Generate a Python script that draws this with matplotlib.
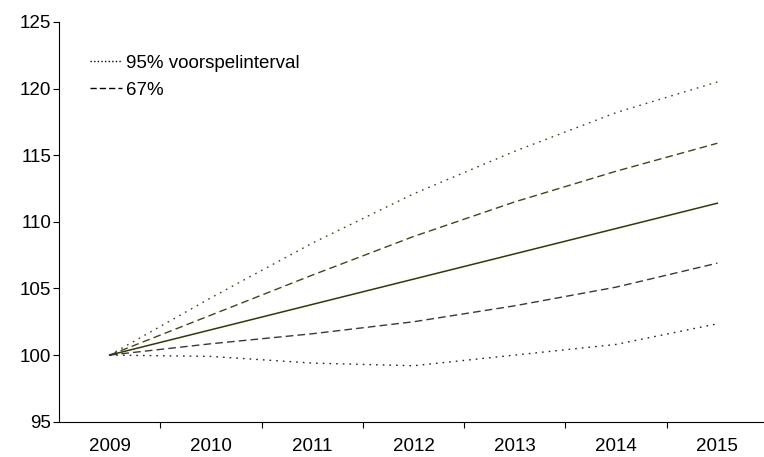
import matplotlib.pyplot as plt

plt.rcParams['font.family'] = ['Liberation Sans', 'DejaVu Sans']

jaren = ['2009', '2010', '2011', '2012', '2013', '2014', '2015']
midden = [100, 101.9, 103.8, 105.7, 107.6, 109.5, 111.4]
boven_95 = [100, 104.3, 108.4, 112.1, 115.3, 118.2, 120.5]
boven_67 = [100, 103.0, 106.0, 108.9, 111.5, 113.8, 115.9]
onder_67 = [100, 100.85, 101.6, 102.5, 103.7, 105.1, 106.9]
onder_95 = [100, 99.9, 99.4, 99.2, 100.0, 100.8, 102.35]

fs = 13.5
dot = (0, (1.2, 3.6))
dash = (0, (5.5, 3))

fig = plt.figure(figsize=(7.64, 4.57), dpi=100)
# x-as loopt iets voorbij de rechterrand door
ax = fig.add_axes([59 / 764, 1 - 421.7 / 457, 709 / 764, 399.7 / 457])

x = range(len(jaren))
olijf = '#44441a'
ax.plot(x, boven_95, color=olijf, lw=1.0, linestyle=dot)
ax.plot(x, boven_67, color=olijf, lw=1.0, linestyle=dash)
ax.plot(x, midden, color='#36360c', lw=1.1)
ax.plot(x, onder_67, color='#383838', lw=1.0, linestyle=dash)
ax.plot(x, onder_95, color='#262626', lw=1.0, linestyle=dot)

ax.set_xlim(-0.5, len(jaren) - 0.5)
ax.set_ylim(95, 125)
ax.set_yticks(range(95, 126, 5))

# streepjes tussen de jaren, labels op de jaren
ax.set_xticks([i + 0.5 for i in range(len(jaren) - 1)])
ax.set_xticklabels([])
ax.set_xticks(list(x), minor=True)
ax.set_xticklabels(jaren, minor=True)
ax.tick_params(axis='x', which='major', direction='out', length=4.5, width=0.8)
ax.tick_params(axis='x', which='minor', length=0, pad=12, labelsize=fs)
ax.tick_params(axis='y', direction='out', length=4.5, width=0.8, pad=1, labelsize=fs)

for s in ['top', 'right']:
    ax.spines[s].set_visible(False)
for s in ['left', 'bottom']:
    ax.spines[s].set_linewidth(0.8)

h1, = ax.plot([], [], color='black', lw=1.0, linestyle=(0, (1, 1.6)))
h2, = ax.plot([], [], color='black', lw=1.0, linestyle=(0, (4.5, 2.2)))
ax.legend([h1, h2], ['95% voorspelinterval', '67%'], loc='upper left',
          bbox_to_anchor=(0.033, 0.937), frameon=False, fontsize=fs,
          handlelength=1.7, handletextpad=0.2, labelspacing=0.52,
          borderaxespad=0)

fig.savefig('out.png', dpi=100)
